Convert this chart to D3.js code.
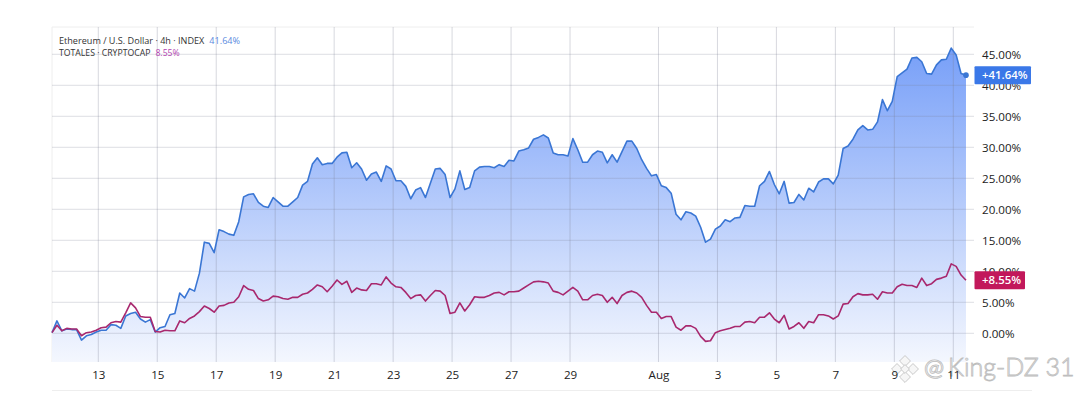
<!DOCTYPE html>
<html><head><meta charset="utf-8">
<script src="https://cdn.jsdelivr.net/npm/d3@7"></script>
<style>html,body{margin:0;padding:0;background:#fff;overflow:hidden}svg{display:block}</style>
</head><body><svg id="c" width="1080" height="395"></svg>
<script>
const startDay = 11.43, barsPerDay = 6;
const ethValues = [0.1,2.0,0.4,0.7,0.6,0.6,-1.1,-0.4,-0.2,0.2,0.5,0.5,1.4,1.3,0.8,2.8,3.2,3.4,2.3,1.8,2.2,0.2,0.9,1.1,3.0,3.2,6.5,5.7,7.2,6.8,9.7,14.7,14.5,13.0,16.7,16.4,16.0,15.8,18.0,22.0,22.4,22.5,21.1,20.5,20.3,21.9,21.2,20.5,20.5,21.2,21.9,23.9,24.5,27.3,28.3,27.2,27.4,27.4,28.4,29.1,29.2,26.7,27.5,26.5,24.7,25.7,26.0,24.5,27.0,26.5,24.6,24.6,23.7,21.7,23.1,23.5,21.9,24.2,26.5,26.6,25.6,21.9,23.3,26.2,23.2,23.5,26.2,26.8,26.9,26.9,26.7,27.2,26.9,27.9,27.8,29.4,29.6,29.9,31.3,31.6,32.0,31.5,29.1,28.8,28.8,28.6,31.4,29.6,27.6,27.6,28.8,29.4,29.2,27.5,28.8,27.6,29.3,31.0,31.0,29.8,28.0,26.6,25.4,25.6,23.8,23.5,22.6,19.2,18.3,19.6,19.4,18.9,17.1,14.7,15.2,16.8,17.3,18.3,18.0,18.6,18.7,20.6,20.5,20.5,23.8,24.5,26.1,24.0,22.5,24.5,21.0,21.1,22.4,21.5,23.4,22.8,24.4,24.9,24.9,24.1,25.5,29.8,30.2,31.3,32.8,33.5,32.8,32.9,34.1,37.7,35.9,37.4,41.4,42.0,42.6,44.4,44.5,43.8,41.9,41.8,43.3,44.1,44.2,46.0,44.9,41.9,41.64];
const totalValues = [0.1,1.3,0.4,0.8,0.7,0.7,-0.4,0.1,0.2,0.5,0.9,1.0,1.7,1.9,1.8,3.3,4.9,4.1,2.7,2.6,2.6,0.3,0.2,0.5,0.4,0.4,2.0,1.7,2.4,2.8,3.5,4.4,4.0,3.4,4.4,4.5,4.9,5.0,5.9,7.7,7.1,6.9,5.6,5.2,5.4,6.0,5.9,5.6,5.5,5.8,5.8,6.3,6.5,7.1,7.8,7.5,6.7,7.6,8.6,7.9,8.4,6.6,7.3,7.0,6.9,8.0,8.0,7.8,9.1,8.1,7.5,7.4,6.6,5.6,6.1,6.2,5.2,6.1,6.9,6.8,6.1,3.2,3.4,4.9,3.6,4.6,5.9,5.8,5.8,6.1,6.5,6.6,6.2,6.7,6.7,6.8,7.3,7.8,8.3,8.4,8.3,8.1,6.8,6.6,6.2,6.8,7.4,6.8,5.4,5.4,6.1,6.3,6.1,5.0,5.8,4.8,6.1,6.6,6.8,6.5,5.8,4.5,3.4,3.4,2.4,2.7,2.7,1.0,0.5,1.2,1.2,0.8,-0.5,-1.3,-1.2,0.1,0.4,0.6,0.8,1.1,1.1,1.8,1.9,1.7,2.6,2.6,3.3,2.3,1.7,2.9,0.7,1.1,1.7,0.8,1.9,1.7,3.0,3.0,2.8,2.3,2.8,4.7,4.8,5.9,6.4,6.2,6.2,6.3,5.5,6.7,6.5,6.5,7.5,7.9,7.7,7.7,7.4,8.9,7.7,8.0,8.7,8.9,9.2,11.2,10.8,9.4,8.55];
const tickDays = [13,15,17,19,21,23,25,27,29,32,34,36,38,40,42];
const tickLabels = ["13","15","17","19","21","23","25","27","29","Aug","3","5","7","9","11"];
const yTicks = [0,5,10,15,20,25,30,35,40,45];

const svg = d3.select("#c");
const font = "'Open Sans','Noto Sans',sans-serif";
const x = d3.scaleLinear().domain([13,42]).range([98.3,953.3]);
const y = d3.scaleLinear().domain([0,45]).range([333.3,54.3]);
const L=52,R=974,T=27,B=362;
const dayOf = i => startDay + i/barsPerDay;

const defs = svg.append("defs");
const g = defs.append("linearGradient").attr("id","fill").attr("gradientUnits","userSpaceOnUse")
  .attr("x1",0).attr("x2",0).attr("y1",47).attr("y2",B);
g.append("stop").attr("offset",0).attr("stop-color","#779ff8");
g.append("stop").attr("offset",1).attr("stop-color","#f4f7fe");

svg.append("line").attr("x1",L).attr("x2",R).attr("y1",T).attr("y2",T).attr("stroke","#eeeeee");
svg.append("line").attr("x1",L).attr("x2",L).attr("y1",T).attr("y2",B).attr("stroke","#eeeeee");
svg.append("line").attr("x1",L).attr("x2",1032).attr("y1",390.5).attr("y2",390.5).attr("stroke","#eeeeee");

const area = d3.area().x((d,i)=>x(dayOf(i))).y0(B).y1(d=>y(d));
const line = d3.line().x((d,i)=>x(dayOf(i))).y(d=>y(d));

svg.append("path").datum(ethValues).attr("d",area).attr("fill","url(#fill)");

const grid = svg.append("g");
grid.selectAll(".h").data(yTicks).join("line").attr("x1",L).attr("x2",R)
  .attr("y1",d=>y(d)).attr("y2",d=>y(d)).attr("stroke","#7a7f92").attr("stroke-opacity",.26);
grid.selectAll(".v").data(tickDays).join("line").attr("y1",T).attr("y2",B)
  .attr("x1",d=>x(d)).attr("x2",d=>x(d)).attr("stroke","#7a7f92").attr("stroke-opacity",.3);

svg.append("path").datum(ethValues).attr("d",line).attr("fill","none").attr("stroke","#3a76d4").attr("stroke-width",1.6).attr("stroke-linejoin","round");
svg.append("path").datum(totalValues).attr("d",line).attr("fill","none").attr("stroke","#a8286e").attr("stroke-width",1.6).attr("stroke-linejoin","round");

svg.append("circle").attr("cx",x(dayOf(ethValues.length-1))).attr("cy",y(ethValues[ethValues.length-1])).attr("r",2.8).attr("fill","#3a76d4");

const wm = svg.append("g").attr("fill","#f6f6f6").attr("stroke","#bdbdbd").attr("stroke-width",.8);
[[905,361,4.2],[905,377,4.2],[897,369,4.2],[913,369,4.2],[905,369,3.4]].forEach(p=>{
  wm.append("path").attr("d",d3.line()([[p[0],p[1]-p[2]*1.3],[p[0]+p[2]*1.3,p[1]],[p[0],p[1]+p[2]*1.3],[p[0]-p[2]*1.3,p[1]]])+"Z");
});
wm.append("text").attr("x",924).attr("y",376).attr("font-family","Lato,sans-serif").attr("font-size",24).text("@");
wm.append("text").attr("x",948).attr("y",376).attr("font-family","Lato,sans-serif").attr("font-size",25).attr("font-weight",300).text("King-DZ 31");

const xAxis = d3.axisBottom(x).tickValues(tickDays).tickFormat((d,i)=>tickLabels[i]).tickSize(0).tickPadding(9);
const xg = svg.append("g").attr("transform",`translate(0,${B})`).call(xAxis);
xg.select(".domain").remove();
xg.selectAll("text").attr("font-family",font).attr("font-size",11.6).attr("fill","#222");
const yAxis = d3.axisRight(y).tickValues(yTicks).tickFormat(d=>d.toFixed(2)+"%").tickSize(0).tickPadding(0);
const yg = svg.append("g").attr("transform","translate(982,0)").call(yAxis);
yg.select(".domain").remove();
yg.selectAll("text").attr("font-family",font).attr("font-size",11.6).attr("fill","#222");

function badge(v,w,fill){
  const cy = y(v);
  svg.append("rect").attr("x",974.5).attr("y",cy-9).attr("width",w).attr("height",18).attr("fill",fill).attr("rx",1);
  svg.append("text").attr("x",982).attr("y",cy).attr("dy","0.35em").attr("font-family",font).attr("font-size",11.4).attr("font-weight",600).attr("fill","#fff").text("+"+v.toFixed(2)+"%");
}
badge(41.64,56.5,"#3a78e8");
badge(8.55,50.5,"#c2185b");

const lg = svg.append("g").attr("font-family",font).attr("fill","#333");
const l1 = lg.append("text").attr("x",59).attr("y",43.5).attr("font-size",9.1);
l1.append("tspan").text("Ethereum / U.S. Dollar · 4h · INDEX");
l1.append("tspan").attr("dx",5).attr("fill","#5b8ae0").text("41.64%");
const l2 = lg.append("text").attr("x",59).attr("y",56).attr("font-size",8.7);
l2.append("tspan").text("TOTALES · CRYPTOCAP");
l2.append("tspan").attr("dx",5).attr("fill","#b23fb0").text("8.55%");
</script></body></html>
